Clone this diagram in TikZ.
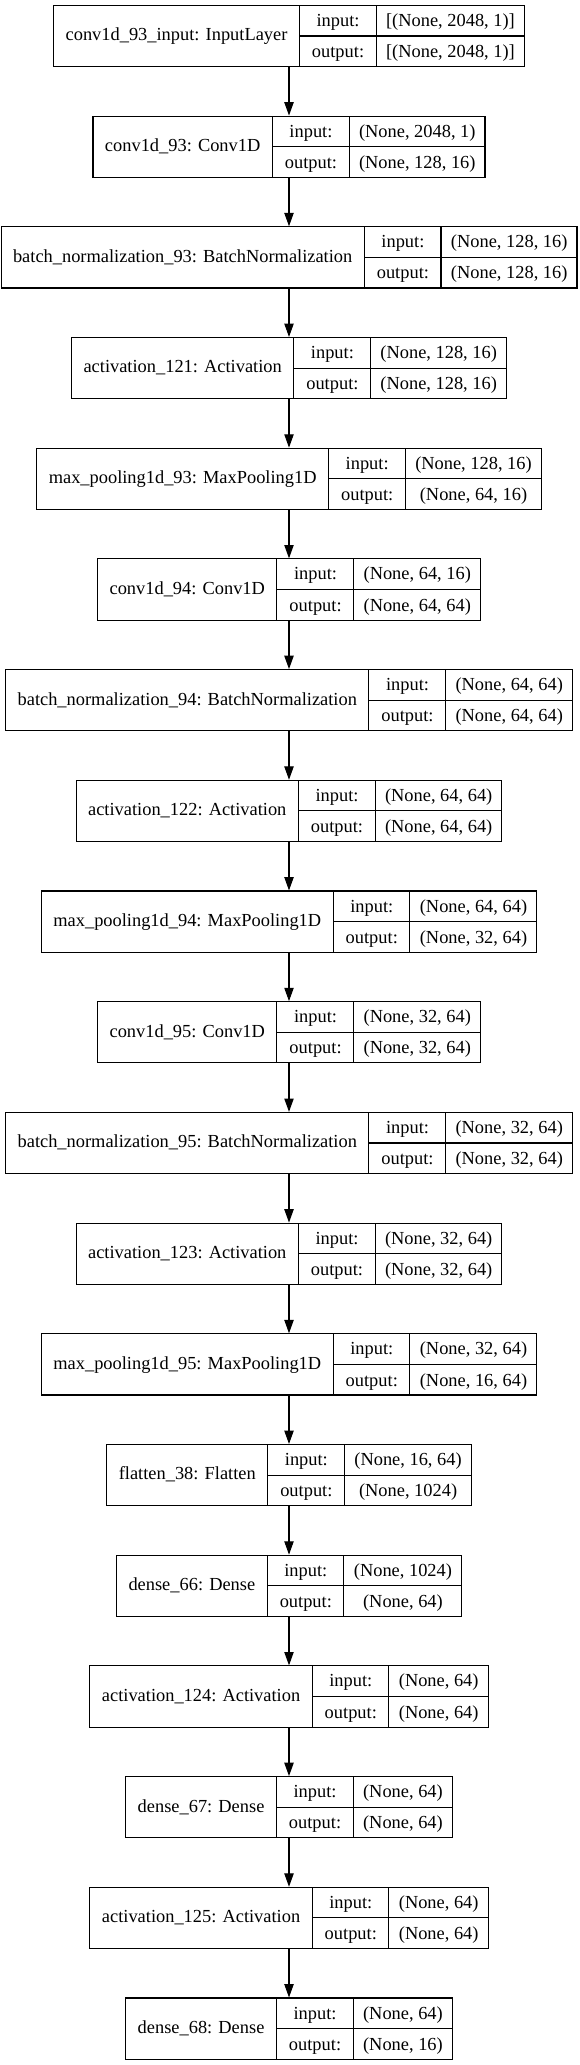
\documentclass[tikz,border=0pt]{standalone}
\usepackage{fontspec}
\setmainfont{Liberation Serif}
\usetikzlibrary{arrows.meta}
\setlength{\arrayrulewidth}{0.8pt}
\renewcommand{\arraystretch}{1.41}
\newcommand{\lyr}[3]{%
\begin{tabular}{@{\hspace{9pt}}c@{\hspace{9pt}}|@{}c@{}}%
#1 & \begin{tabular}{@{\hspace{9pt}}c@{\hspace{9pt}}|@{\hspace{7.1pt}}c@{\hspace{7.1pt}}}%
input: & #2\\\hline
output: & #3%
\end{tabular}%
\end{tabular}}
\tikzset{
  layer/.style={draw, line width=0.8pt, inner sep=0pt, font=\fontsize{13.8pt}{16pt}\selectfont},
  flow/.style={line width=0.8pt, -{Triangle[length=10pt,width=7pt]}}
}
\begin{document}
\begin{tikzpicture}[x=0.75pt, y=-0.75pt]%
\useasboundingbox (0.000000, 0.000000) rectangle (579.000000, 2065.000000);%
\node[layer] (l01) at (289.000000, 36.000000) {\lyr{conv1d\_93\_input: InputLayer}{[(None, 2048, 1)]}{[(None, 2048, 1)]}};%
\node[layer] (l02) at (289.000000, 146.700000) {\lyr{conv1d\_93: Conv1D}{(None, 2048, 1)}{(None, 128, 16)}};%
\node[layer] (l03) at (289.000000, 257.400000) {\lyr{batch\_normalization\_93: BatchNormalization}{(None, 128, 16)}{(None, 128, 16)}};%
\node[layer] (l04) at (289.000000, 368.100000) {\lyr{activation\_121: Activation}{(None, 128, 16)}{(None, 128, 16)}};%
\node[layer] (l05) at (289.000000, 478.800000) {\lyr{max\_pooling1d\_93: MaxPooling1D}{(None, 128, 16)}{(None, 64, 16)}};%
\node[layer] (l06) at (289.000000, 589.500000) {\lyr{conv1d\_94: Conv1D}{(None, 64, 16)}{(None, 64, 64)}};%
\node[layer] (l07) at (289.000000, 700.200000) {\lyr{batch\_normalization\_94: BatchNormalization}{(None, 64, 64)}{(None, 64, 64)}};%
\node[layer] (l08) at (289.000000, 810.900000) {\lyr{activation\_122: Activation}{(None, 64, 64)}{(None, 64, 64)}};%
\node[layer] (l09) at (289.000000, 921.600000) {\lyr{max\_pooling1d\_94: MaxPooling1D}{(None, 64, 64)}{(None, 32, 64)}};%
\node[layer] (l10) at (289.000000, 1032.300000) {\lyr{conv1d\_95: Conv1D}{(None, 32, 64)}{(None, 32, 64)}};%
\node[layer] (l11) at (289.000000, 1143.000000) {\lyr{batch\_normalization\_95: BatchNormalization}{(None, 32, 64)}{(None, 32, 64)}};%
\node[layer] (l12) at (289.000000, 1253.700000) {\lyr{activation\_123: Activation}{(None, 32, 64)}{(None, 32, 64)}};%
\node[layer] (l13) at (289.000000, 1364.400000) {\lyr{max\_pooling1d\_95: MaxPooling1D}{(None, 32, 64)}{(None, 16, 64)}};%
\node[layer] (l14) at (289.000000, 1475.100000) {\lyr{flatten\_38: Flatten}{(None, 16, 64)}{(None, 1024)}};%
\node[layer] (l15) at (289.000000, 1585.800000) {\lyr{dense\_66: Dense}{(None, 1024)}{(None, 64)}};%
\node[layer] (l16) at (289.000000, 1696.500000) {\lyr{activation\_124: Activation}{(None, 64)}{(None, 64)}};%
\node[layer] (l17) at (289.000000, 1807.200000) {\lyr{dense\_67: Dense}{(None, 64)}{(None, 64)}};%
\node[layer] (l18) at (289.000000, 1917.900000) {\lyr{activation\_125: Activation}{(None, 64)}{(None, 64)}};%
\node[layer] (l19) at (289.000000, 2028.600000) {\lyr{dense\_68: Dense}{(None, 64)}{(None, 16)}};%
\draw[flow] (l01) -- (l02);%
\draw[flow] (l02) -- (l03);%
\draw[flow] (l03) -- (l04);%
\draw[flow] (l04) -- (l05);%
\draw[flow] (l05) -- (l06);%
\draw[flow] (l06) -- (l07);%
\draw[flow] (l07) -- (l08);%
\draw[flow] (l08) -- (l09);%
\draw[flow] (l09) -- (l10);%
\draw[flow] (l10) -- (l11);%
\draw[flow] (l11) -- (l12);%
\draw[flow] (l12) -- (l13);%
\draw[flow] (l13) -- (l14);%
\draw[flow] (l14) -- (l15);%
\draw[flow] (l15) -- (l16);%
\draw[flow] (l16) -- (l17);%
\draw[flow] (l17) -- (l18);%
\draw[flow] (l18) -- (l19);%
\end{tikzpicture}
\end{document}
